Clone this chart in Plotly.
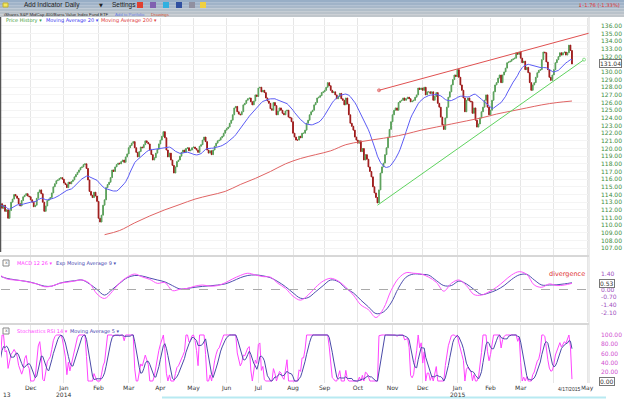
import numpy as np
import pandas as pd
import plotly.graph_objects as go

# ---------------- data ----------------
close_2013_11 = [112.5, 112.8, 112.2, 112.6, 111.8, 112.0, 110.9, 111.9, 113.0, 113.4, 114.0, 113.8, 113.5, 112.8, 112.5, 113.2, 113.7, 113.9, 114.1, 113.8, 113.7]
close_2013_12 = [113.3, 113.0, 112.4, 112.6, 113.5, 114.3, 114.6, 114.1, 113.0, 111.8, 112.5, 113.2, 113.4, 113.6, 114.2, 115.0, 115.4, 115.8, 115.9, 116.1, 116.2, 116.0]
close_2014_01 = [115.5, 115.3, 114.9, 115.6, 115.4, 115.7, 115.9, 116.3, 116.6, 116.9, 117.2, 117.5, 117.6, 117.9, 118.0, 117.4, 115.9, 114.4, 113.9, 113.6, 114.3, 113.8, 113.1]
close_2014_02 = [110.9, 110.4, 111.3, 112.6, 113.3, 114.9, 115.3, 115.6, 116.2, 117.2, 117.0, 117.6, 117.9, 118.1, 118.0, 118.3, 118.5, 118.2, 118.9, 119.3]
close_2014_03 = [120.1, 120.4, 120.7, 120.9, 120.1, 119.5, 118.9, 119.6, 120.2, 120.1, 120.5, 121.0, 120.8, 120.6, 119.8, 119.2, 118.5, 118.8, 119.4, 119.9, 120.6]
close_2014_04 = [121.1, 121.6, 122.2, 121.4, 119.8, 118.9, 119.4, 118.5, 117.8, 116.8, 117.6, 118.3, 118.5, 119.0, 119.5, 119.8, 119.5, 120.0, 120.1, 119.7, 119.8, 120.1]
close_2014_05 = [120.2, 120.0, 119.8, 119.5, 120.3, 120.5, 121.1, 121.5, 120.9, 119.8, 119.4, 119.7, 119.2, 119.8, 120.3, 120.7, 121.0, 121.1, 121.4, 121.6, 122.0, 122.4]
close_2014_06 = [122.6, 122.8, 123.3, 123.7, 124.4, 125.3, 125.5, 124.8, 124.5, 124.4, 124.8, 125.7, 125.9, 126.3, 126.5, 126.6, 126.1, 125.7, 126.2, 127.0, 126.8]
close_2014_07 = [127.9, 128.0, 127.4, 127.6, 127.3, 126.6, 126.2, 125.9, 125.2, 125.0, 126.0, 125.6, 124.4, 124.9, 125.3, 125.0, 124.6, 124.4, 124.9, 125.0, 124.1, 124.0, 123.5]
close_2014_08 = [122.0, 121.5, 121.1, 121.1, 121.6, 121.4, 122.0, 122.0, 122.4, 123.3, 123.7, 124.4, 124.8, 125.0, 125.7, 126.0, 126.6, 126.7, 126.9, 127.3, 127.4]
close_2014_09 = [127.6, 128.0, 128.6, 128.2, 127.6, 127.3, 127.4, 127.0, 126.5, 126.8, 127.2, 126.5, 126.3, 125.7, 126.6, 125.8, 124.4, 123.3, 122.9, 122.4, 121.5, 121.1]
close_2014_10 = [120.7, 121.0, 119.6, 120.0, 118.5, 119.2, 118.6, 117.6, 117.0, 116.3, 115.0, 114.2, 113.6, 112.9, 114.6, 116.8, 117.6, 118.1, 119.2, 120.1, 121.5, 122.5, 123.5]
close_2014_11 = [124.4, 125.0, 125.3, 125.0, 126.0, 126.2, 126.3, 126.6, 126.3, 126.5, 126.7, 126.5, 126.1, 126.2, 126.3, 126.7, 127.0, 127.9, 127.7, 127.9]
close_2014_12 = [127.6, 128.0, 127.0, 127.4, 127.4, 127.2, 127.4, 126.3, 126.8, 127.3, 125.9, 125.4, 124.1, 123.1, 122.5, 124.0, 125.4, 126.7, 127.4, 128.3, 129.0, 129.6, 129.4]
close_2015_01 = [130.3, 129.3, 128.3, 127.6, 126.6, 124.8, 126.3, 126.6, 126.2, 126.1, 124.6, 125.3, 123.7, 122.8, 123.2, 124.0, 124.8, 125.4, 126.3, 127.0, 125.4, 124.4]
close_2015_02 = [125.0, 126.3, 127.4, 128.3, 128.6, 129.2, 129.6, 128.6, 129.6, 130.0, 130.5, 131.2, 131.3, 131.4, 131.6, 131.7, 131.8, 132.5, 132.3, 132.6]
close_2015_03 = [131.8, 131.2, 131.4, 130.3, 130.6, 129.9, 128.6, 127.6, 128.3, 128.6, 129.3, 129.9, 130.2, 130.3, 131.6, 132.6, 132.5, 131.3, 130.3, 129.3, 128.9, 129.6]
close_2015_04 = [130.3, 131.2, 131.6, 132.0, 132.5, 132.2, 132.5, 132.6, 132.2, 132.5, 133.5, 132.8, 131.04]

close = (close_2013_11 + close_2013_12 + close_2014_01 + close_2014_02 + close_2014_03 +
         close_2014_04 + close_2014_05 + close_2014_06 + close_2014_07 + close_2014_08 +
         close_2014_09 + close_2014_10 + close_2014_11 + close_2014_12 + close_2015_01 +
         close_2015_02 + close_2015_03 + close_2015_04)

# 200-day moving average (sampled every second Friday)
ma200_dates = pd.date_range("2014-02-07", periods=32, freq="2W-FRI")
ma200_vals = [108.75, 109.3, 110.3, 111.2, 112.0, 112.7, 113.4, 113.9, 114.4, 115.3, 116.1, 117.0,
              118.0, 118.7, 119.2, 119.7, 120.5, 120.9, 121.2, 121.5, 121.9, 122.4, 122.8, 123.2,
              123.6, 124.0, 124.5, 124.9, 125.3, 125.7, 126.0, 126.2]

# MACD (12,26) and its 9-day EMA, weekly readings (Fridays)
macd_dates = pd.date_range("2013-11-01", periods=77, freq="W-FRI")
macd_vals = [1.35, 0.95, 0.85, 0.79, 0.65, 0.5, 0.25, 0.3, 0.55, 0.65,
             0.75, 0.85, 0.55, -0.4, -0.8, -0.2, 0.6, 1.1, 1.38, 1.12,
             0.9, 0.55, 0.62, -0.1, 0.02, 0.1, 0.3, 0.4, 0.3, 0.35,
             0.6, 0.95, 1.25, 1.45, 1.3, 1.15, 1.1, 0.55, 0.1, -0.6,
             -0.95, -0.5, 0.2, 0.75, 1.0, 0.75, 0.2, -0.5, -1.38, -1.8,
             -2.5, -1.7, -0.1, 1.0, 1.5, 1.45, 1.38, 1.1, 0.65, -0.15,
             0.55, 0.85, 0.35, -0.45, -0.5, -0.2, 0.2, 0.75, 1.3, 1.59,
             1.35, 0.4, 0.2, 0.5, 0.35, 0.4, 0.55]
signal_vals = [1.22, 1.0, 0.88, 0.78, 0.68, 0.5, 0.3, 0.3, 0.55, 0.7,
               0.78, 0.85, 0.5, 0.0, -0.5, 0.0, 0.55, 1.05, 1.25, 1.2,
               1.02, 0.85, 0.68, 0.35, 0.05, 0.1, 0.2, 0.28, 0.33, 0.4,
               0.5, 0.75, 1.05, 1.25, 1.3, 1.22, 1.05, 0.7, 0.25, -0.3,
               -0.78, -0.72, -0.2, 0.35, 0.85, 0.7, 0.1, -0.3, -0.95, -1.55,
               -2.15, -2.0, -1.2, 0.15, 1.1, 1.38, 1.35, 1.28, 0.8, 0.35,
               0.35, 0.75, 0.5, 0.0, -0.45, -0.3, -0.05, 0.35, 0.9, 1.3,
               1.35, 0.85, 0.4, 0.4, 0.42, 0.5, 0.6]

# drawn trend lines (date, price)
green_line_dates = ["2014-10-20", "2015-04-29"]
green_line_prices = [112.6, 131.6]
red_line_dates = ["2014-10-21", "2015-05-05"]
red_line_prices = [127.6, 135.1]

month_names = ["Nov", "Dec", "Jan", "Feb", "Mar", "Apr", "May", "Jun", "Jul", "Aug",
               "Sep", "Oct", "Nov", "Dec", "Jan", "Feb", "Mar", "", "May"]
year_labels = ["2014", "2015"]
year_starts = ["2014-01-01", "2015-01-01"]
price_ticks = list(range(107, 137))
macd_ticks = [1.40, 0.00, -0.70, -1.40, -2.10]
stoch_ticks = [20, 40, 60, 80, 100]

# ---------------- derived ----------------
axis_days = pd.bdate_range("2013-11-01", "2015-05-08")
n = len(close)
xi = np.arange(n)
c = pd.Series(close, dtype=float)
o = c.shift(1).fillna(c.iloc[0])
hi = np.maximum(o, c)
lo = np.minimum(o, c)
ma20 = c.rolling(20, min_periods=1).mean()

delta = c.diff()
gain = delta.clip(lower=0).ewm(alpha=1 / 14, adjust=False).mean()
loss = (-delta.clip(upper=0)).ewm(alpha=1 / 14, adjust=False).mean()
rsi = 100 - 100 / (1 + gain / loss.replace(0, np.nan))
rsi = rsi.fillna(50)
rmin = rsi.rolling(14, min_periods=1).min()
rmax = rsi.rolling(14, min_periods=1).max()
stoch = ((rsi - rmin) / (rmax - rmin).replace(0, np.nan) * 100).fillna(50)
stoch_ma5 = stoch.rolling(5, min_periods=1).mean()


def pos(dates):
    return axis_days.get_indexer(pd.to_datetime(dates))


month_starts = []
for m in pd.period_range("2013-11", "2015-05", freq="M"):
    month_starts.append(int(np.argmax(axis_days >= m.start_time)))

W, H = 624, 399
L, R = 1, 589
xr = [1.3, 391.3]


def px(x):
    return (x - L) / (R - L)


def py(y):
    return 1 - y / H


def xdata_to_paper(v):
    return (v - xr[0]) / (xr[1] - xr[0])


FONT = "DejaVu Sans"
NARROW = "Liberation Sans"
fig = go.Figure()

fig.add_trace(go.Candlestick(
    x=xi, open=o, high=hi, low=lo, close=c, xaxis="x", yaxis="y",
    increasing=dict(line=dict(color="#5aa05a", width=1), fillcolor="#5aa05a"),
    decreasing=dict(line=dict(color="#9e1a1a", width=1), fillcolor="#9e1a1a"),
    whiskerwidth=0, hoverinfo="skip"))
fig.add_trace(go.Scatter(x=xi, y=ma20, mode="lines", line=dict(color="#5c5cf5", width=1),
                         xaxis="x", yaxis="y"))
fig.add_trace(go.Scatter(x=pos(ma200_dates), y=ma200_vals, mode="lines",
                         line=dict(color="#e06464", width=1, shape="spline"), xaxis="x", yaxis="y"))
fig.add_trace(go.Scatter(x=pos(green_line_dates), y=green_line_prices, mode="lines+markers",
                         line=dict(color="#5fd35f", width=1),
                         marker=dict(size=[0, 3], color="white", line=dict(color="#5fd35f", width=1)),
                         xaxis="x", yaxis="y"))
fig.add_trace(go.Scatter(x=pos(red_line_dates), y=red_line_prices, mode="lines+markers",
                         line=dict(color="#e05050", width=1),
                         marker=dict(size=[3, 0], color="#e08080"),
                         xaxis="x", yaxis="y"))

fig.add_trace(go.Scatter(x=pos(macd_dates), y=signal_vals, mode="lines",
                         line=dict(color="#5050b0", width=1, shape="spline"), xaxis="x2", yaxis="y2"))
fig.add_trace(go.Scatter(x=pos(macd_dates), y=macd_vals, mode="lines",
                         line=dict(color="#ff55ff", width=1, shape="spline"), xaxis="x2", yaxis="y2"))

fig.add_trace(go.Scatter(x=xi, y=stoch, mode="lines", line=dict(color="#ff44ff", width=1),
                         xaxis="x3", yaxis="y3"))
fig.add_trace(go.Scatter(x=xi, y=stoch_ma5, mode="lines", line=dict(color="#4a4aa8", width=1),
                         xaxis="x3", yaxis="y3"))

grid = "#e6e6e6"
xcommon = dict(range=xr, tickvals=month_starts, showgrid=True, gridcolor=grid, gridwidth=1,
               zeroline=False, showline=False, ticks="", fixedrange=True,
               rangeslider=dict(visible=False))
ycommon = dict(side="right", showline=False, zeroline=False, ticks="", ticklabelstandoff=11,
               fixedrange=True)

fig.update_layout(
    width=W, height=H, autosize=False,
    margin=dict(l=L, r=W - R, t=0, b=0),
    paper_bgcolor="white", plot_bgcolor="white",
    showlegend=False, hovermode=False,
    font=dict(family=FONT, size=6, color="#333"),
    xaxis=dict(domain=[0, 1], anchor="y", showticklabels=False, **xcommon),
    xaxis2=dict(domain=[0, 1], anchor="y2", matches="x", showticklabels=False, **xcommon),
    xaxis3=dict(domain=[0, 1], anchor="y3", matches="x", showticklabels=True,
                ticktext=month_names, tickfont=dict(size=6, color="#333"), **xcommon),
    yaxis=dict(domain=[py(255), py(18)], range=[106.1, 137.04], tickvals=price_ticks,
               ticktext=[f"{v:.2f}" for v in price_ticks], tickfont=dict(size=6, color="#3c8c3c"),
               showgrid=True, gridcolor="#f4f4f4", **ycommon),
    yaxis2=dict(domain=[py(322), py(257)], range=[-2.9, 2.9], tickvals=macd_ticks,
                ticktext=[f"{v:.2f}" for v in macd_ticks], tickfont=dict(size=6, color="#a050c0"),
                showgrid=False, **ycommon),
    yaxis3=dict(domain=[py(383), py(325)], range=[-4.3, 121.7], tickvals=stoch_ticks,
                ticktext=[f"{v:.2f}" for v in stoch_ticks], tickfont=dict(size=6, color="#d050d0"),
                showgrid=False, **ycommon),
)

shapes = []
# toolbar gradient
bands = ["#98aec6", "#a0b3c8", "#a8b8c9", "#b1bec9", "#b9c2ca", "#c0c6cb"]
bh = 17 / len(bands)
for i, col in enumerate(bands):
    shapes.append(dict(type="rect", xref="paper", yref="paper", x0=px(0), x1=px(W),
                       y0=py((i + 1) * bh), y1=py(i * bh), fillcolor=col, line=dict(width=0), layer="below"))
# toolbar icons
for x0, col in [(137, "#e04030"), (150, "#8060b0"), (163, "#30b0e0"), (176, "#3050a0"),
                (189, "#9090a0"), (200, "#f0d040")]:
    shapes.append(dict(type="rect", xref="paper", yref="paper", x0=px(x0), x1=px(x0 + 6),
                       y0=py(8), y1=py(2), fillcolor=col, line=dict(width=0)))
shapes.append(dict(type="rect", xref="paper", yref="paper", x0=px(3), x1=px(8), y0=py(7), y1=py(3),
                   fillcolor="#f4e860", line=dict(color="#c0b030", width=1)))
# panel separators and frame
for yy in [256, 324]:
    shapes.append(dict(type="line", xref="paper", yref="paper", x0=px(0), x1=px(R), y0=py(yy), y1=py(yy),
                       line=dict(color="#b0b0b0", width=1)))
shapes.append(dict(type="line", xref="paper", yref="paper", x0=1, x1=1, y0=py(383), y1=py(17),
                   line=dict(color="#d8d8d8", width=1)))
shapes.append(dict(type="line", xref="paper", yref="paper", x0=px(0.5), x1=px(0.5), y0=py(252), y1=py(17),
                   line=dict(color="#555555", width=1.5)))
shapes.append(dict(type="line", xref="paper", yref="paper", x0=px(162), x1=px(606), y0=py(397.5), y1=py(397.5),
                   line=dict(color="#b8eaf2", width=2)))
# MACD zero line
shapes.append(dict(type="line", xref="paper", yref="y2", x0=0, x1=1, y0=0, y1=0,
                   line=dict(color="#aaaaaa", width=1, dash="dash")))
# checkboxes
for yy in [263, 331]:
    shapes.append(dict(type="rect", xref="paper", yref="paper", x0=px(3), x1=px(9), y0=py(yy + 3), y1=py(yy - 3),
                       fillcolor="white", line=dict(color="#888", width=1)))
fig.update_layout(shapes=shapes)

ann = []


def text(t, x, y, size=5, color="#333", anchor="left", family=FONT, **kw):
    ann.append(dict(text=t, x=px(x), y=py(y), xref="paper", yref="paper", xanchor=anchor,
                    yanchor="middle", showarrow=False, font=dict(family=family, size=size, color=color), **kw))


text("Add Indicator", 22, 5, 6.5, "#222", family=NARROW)
text("Daily", 63, 5, 6.5, "#222", family=NARROW)
text("▼", 97, 5, 5, "#222")
text("Settings", 110, 5, 6.5, "#222", family=NARROW)
text("iShares S&P MidCap 400/Barra Value Index Fund ETF", 2, 14, 4.3, "#222", family=NARROW)
text("Add to Portfolio", 113, 14, 4.3, "#6a80e0", family=NARROW)
text("Drawings", 149, 14, 4.3, "#d05030", family=NARROW)
text("<b>↓</b>-1.76 (-1.33%)", 622, 5, 5.2, "#e03030", anchor="right")
text("Price History ▾", 4, 21, 5, "#3a9a3a")
text("Moving Average 20 ▾", 44, 21, 5, "#4040f0")
text("Moving Average 200 ▾", 99, 21, 5, "#e04040")
text("x", 6, 262.5, 4.5, "#666", anchor="center")
text("MACD 12 26 ▾", 15, 263, 5, "#ff40ff")
text("Exp Moving Average 9 ▾", 54, 263, 5, "#4848b0")
text("x", 6, 330.5, 4.5, "#666", anchor="center")
text("Stochastics RSI 14 ▾", 15, 331, 5, "#ff40ff")
text("Moving Average 5 ▾", 68, 331, 5, "#4848b0")
text("13", 0.5, 394.5, 6, "#333")

# value boxes
for txt, yv, yref in [("131.04", close[-1], "y"), ("0.53", 0.53, "y2"), ("0.00", 0, "y3")]:
    ann.append(dict(text=txt, x=1, y=yv, xref="paper", yref=yref, xanchor="left", xshift=10,
                    showarrow=False, font=dict(family=FONT, size=6, color="#333"), bgcolor="white",
                    bordercolor="#777", borderwidth=1, borderpad=0))
ann.append(dict(text="divergence", x=377, y=1.38, xref="x2", yref="y2", xanchor="center",
                showarrow=False, font=dict(family=FONT, size=6.5, color="#e03030")))
ann.append(dict(text="4/17/2015", x=n - 3, y=py(389), xref="x3", yref="paper", xanchor="center",
                yanchor="middle", showarrow=False, font=dict(family=NARROW, size=5, color="#333"),
                bgcolor="white"))
for yr, start in zip(year_labels, pos(year_starts)):
    ann.append(dict(text=yr, x=xdata_to_paper(start), y=py(394.5), xref="paper", yref="paper",
                    xanchor="center", yanchor="middle", showarrow=False,
                    font=dict(family=FONT, size=6, color="#333")))
fig.update_layout(annotations=ann)

fig.write_html("out.html", config=dict(displayModeBar=False, staticPlot=True),
               post_script="document.body.style.margin='0';")
